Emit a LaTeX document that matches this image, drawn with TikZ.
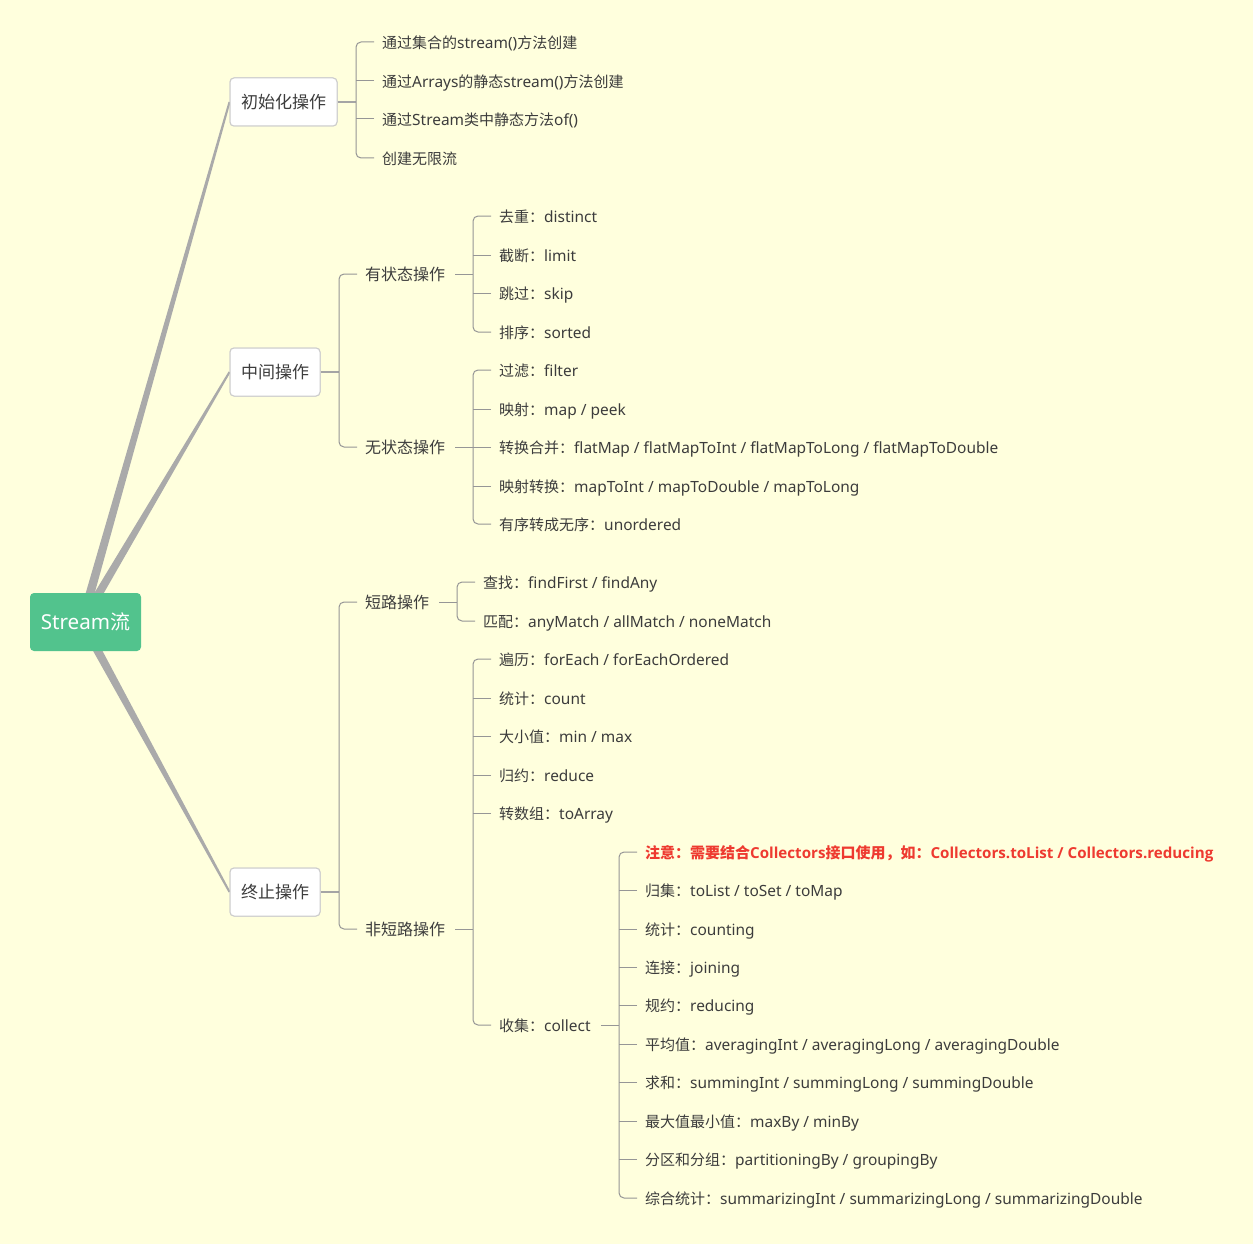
\documentclass[tikz,border=0pt]{standalone}
\usepackage{fontspec}
\setmainfont{Noto Sans}[Scale=1.03]
\newfontfamily\cjk{Noto Sans CJK SC}
\newfontfamily\latb{Open Sans}[Scale=1.01]
\newcommand\zh[1]{{\cjk #1}}
\newcommand\zhb[1]{{\cjk\bfseries #1}}
\newcommand\lb[1]{{\latb\bfseries #1}}
\usetikzlibrary{calc}
\definecolor{bg}{RGB}{255,255,221}
\definecolor{txt}{RGB}{60,60,60}
\definecolor{rootgreen}{RGB}{82,195,141}
\definecolor{boxline}{RGB}{204,204,204}
\definecolor{brline}{RGB}{150,150,150}
\definecolor{mainline}{RGB}{165,165,165}
\definecolor{branchgray}{RGB}{170,170,170}
\definecolor{notered}{RGB}{238,58,48}
\newcommand\mybracket[2]{%
  \draw[br] ([xshift=-8pt]#1.west) -- ([xshift=-26pt]#1.west) -- ([xshift=-26pt]#2.west) -- ([xshift=-8pt]#2.west);}
\newcommand\mytick[1]{\draw[conn] ([xshift=-8pt]#1.west) -- ([xshift=-26pt]#1.west);}
\newcommand\myparent[2]{%
  \coordinate (tmp) at ([xshift=-26pt]#2.west);
  \draw[conn] ([xshift=10pt]#1.east) -- (#1.east -| tmp);}
\newcommand\mymainparent[2]{%
  \coordinate (tmp) at ([xshift=-26pt]#2.west);
  \draw[mainconn] (#1.east) -- (#1.east -| tmp);}
\newcommand\mybranch[2]{%
  \fill[branchgray] ($(#1)!4.5pt!90:(#2)$) -- ($(#2)!1pt!-90:(#1)$) -- ($(#2)!1pt!90:(#1)$) -- ($(#1)!4.5pt!-90:(#2)$) -- cycle;}
\begin{document}
\begin{tikzpicture}[x=1pt,y=-1pt,
  leaf/.style={anchor=west, inner sep=0pt, font=\fontsize{15}{18}\selectfont, text=txt, text height=13.2pt, text depth=1pt},
  mid/.style={anchor=west, inner sep=0pt, font=\fontsize{16}{19}\selectfont, text=txt, text height=13.5pt, text depth=0.5pt},
  mainbox/.style={draw=boxline, fill=white, rounded corners=4pt, line width=1pt, minimum height=48pt, inner xsep=11pt, font=\fontsize{17}{20}\selectfont, text=txt},
  rootbox/.style={fill=rootgreen, rounded corners=4pt, minimum width=111pt, minimum height=58pt, text=white, font=\fontsize{20}{24}\selectfont},
  br/.style={draw=brline, line width=1pt, rounded corners=5pt},
  conn/.style={draw=brline, line width=1pt},
  mainconn/.style={draw=mainline, line width=2pt}]
\fill[bg] (0,0) rectangle (1253,1244);
\useasboundingbox (0,0) rectangle (1253,1244);

% main nodes
\node[mainbox] (init) at (283.5,102) {\zh{初始化操作}};
\node[mainbox] (inter) at (275,372) {\zh{中间操作}};
\node[mainbox] (term) at (275,892) {\zh{终止操作}};

% branches
\coordinate (S) at (82,622);
\mybranch{S}{init.west}
\mybranch{S}{inter.west}
\mybranch{S}{term.west}
\node[rootbox] (root) at (85.5,622) {Stream\zh{流}};
% redraw main boxes on top of branch ends
\node[mainbox] at (init) {\zh{初始化操作}};
\node[mainbox] at (inter) {\zh{中间操作}};
\node[mainbox] at (term) {\zh{终止操作}};

% init children
\node[leaf] (i1) at (382,42) {\zh{通过集合的}stream()\zh{方法创建}};
\node[leaf] (i2) at (382,81) {\zh{通过}Arrays\zh{的静态}stream()\zh{方法创建}};
\node[leaf] (i3) at (382,119) {\zh{通过}Stream\zh{类中静态方法}of()};
\node[leaf] (i4) at (382,158) {\zh{创建无限流}};
\mymainparent{init}{i1}
\mybracket{i1}{i4}
\mytick{i2}\mytick{i3}

% intermediate
\node[mid] (st) at (365,274) {\zh{有状态操作}};
\node[mid] (sl) at (365,447) {\zh{无状态操作}};
\mymainparent{inter}{st}
\mybracket{st}{sl}

\node[leaf] (s1) at (499,216) {\zh{去重：}distinct};
\node[leaf] (s2) at (499,255) {\zh{截断：}limit};
\node[leaf] (s3) at (499,293) {\zh{跳过：}skip};
\node[leaf] (s4) at (499,332) {\zh{排序：}sorted};
\myparent{st}{s1}
\mybracket{s1}{s4}
\mytick{s2}\mytick{s3}

\node[leaf] (l1) at (499,370) {\zh{过滤：}filter};
\node[leaf] (l2) at (499,409) {\zh{映射：}map / peek};
\node[leaf] (l3) at (499,447) {\zh{转换合并：}flatMap / flatMapToInt / flatMapToLong / flatMapToDouble};
\node[leaf] (l4) at (499,486) {\zh{映射转换：}mapToInt / mapToDouble / mapToLong};
\node[leaf] (l5) at (499,524) {\zh{有序转成无序：}unordered};
\myparent{sl}{l1}
\mybracket{l1}{l5}
\mytick{l2}\mytick{l3}\mytick{l4}

% terminal
\node[mid] (sc) at (365,602) {\zh{短路操作}};
\node[mid] (nsc) at (365,929) {\zh{非短路操作}};
\mymainparent{term}{sc}
\mybracket{sc}{nsc}

\node[leaf] (c1) at (483,582) {\zh{查找：}findFirst / findAny};
\node[leaf] (c2) at (483,621) {\zh{匹配：}anyMatch / allMatch / noneMatch};
\myparent{sc}{c1}
\mybracket{c1}{c2}

\node[leaf] (n1) at (499,659) {\zh{遍历：}forEach / forEachOrdered};
\node[leaf] (n2) at (499,698) {\zh{统计：}count};
\node[leaf] (n3) at (499,736) {\zh{大小值：}min / max};
\node[leaf] (n4) at (499,775) {\zh{归约：}reduce};
\node[leaf] (n5) at (499,813) {\zh{转数组：}toArray};
\node[leaf] (n6) at (499,1025) {\zh{收集：}collect};
\myparent{nsc}{n1}
\mybracket{n1}{n6}
\mytick{n2}\mytick{n3}\mytick{n4}\mytick{n5}

\node[leaf, text=notered] (k1) at (645,852) {\zhb{注意：需要结合}\lb{Collectors}\zhb{接口使用，如：}\lb{Collectors.toList / Collectors.reducing}};
\node[leaf] (k2) at (645,890) {\zh{归集：}toList / toSet / toMap};
\node[leaf] (k3) at (645,929) {\zh{统计：}counting};
\node[leaf] (k4) at (645,967) {\zh{连接：}joining};
\node[leaf] (k5) at (645,1005) {\zh{规约：}reducing};
\node[leaf] (k6) at (645,1044) {\zh{平均值：}averagingInt / averagingLong / averagingDouble};
\node[leaf] (k7) at (645,1082) {\zh{求和：}summingInt / summingLong / summingDouble};
\node[leaf] (k8) at (645,1121) {\zh{最大值最小值：}maxBy / minBy};
\node[leaf] (k9) at (645,1159) {\zh{分区和分组：}partitioningBy / groupingBy};
\node[leaf] (k10) at (645,1198) {\zh{综合统计：}summarizingInt / summarizingLong / summarizingDouble};
\myparent{n6}{k1}
\mybracket{k1}{k10}
\mytick{k2}\mytick{k3}\mytick{k4}\mytick{k5}\mytick{k6}\mytick{k7}\mytick{k8}\mytick{k9}
\end{tikzpicture}
\end{document}
